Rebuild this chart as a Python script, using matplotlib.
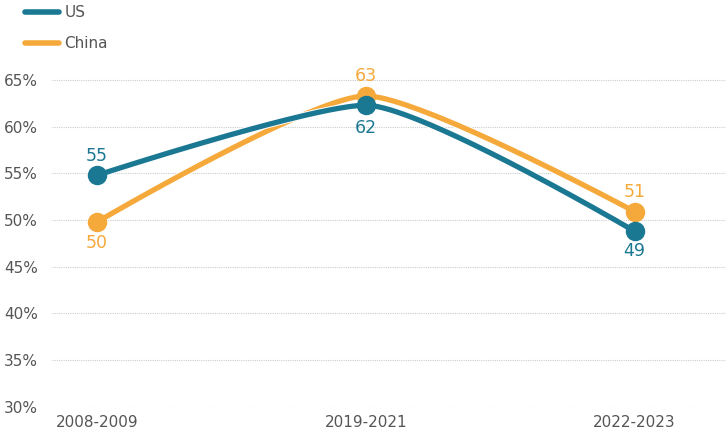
import numpy as np
import matplotlib
matplotlib.use("Agg")
import matplotlib.pyplot as plt
import matplotlib.patheffects as pe
from matplotlib.lines import Line2D

periods = ["2008-2009", "2019-2021", "2022-2023"]
us = [54.8, 62.3, 48.8]
china = [49.8, 63.3, 50.9]
us_labels = ["55", "62", "49"]
china_labels = ["50", "63", "51"]

US_COL = "#1b7893"
CN_COL = "#f6a93b"
TXT = "#555555"

plt.rcParams["font.family"] = ["DejaVu Sans"]


def spline(x, y, smoothing=4.0, n=80):
    # highcharts-like spline: bezier segments, control points clamped at peaks
    x = np.asarray(x, float)
    y = np.asarray(y, float)
    k = len(x)
    lc = [None] * k
    rc = [None] * k
    denom = smoothing + 1
    for i in range(1, k - 1):
        lx = (smoothing * x[i] + x[i - 1]) / denom
        ly = (smoothing * y[i] + y[i - 1]) / denom
        rx = (smoothing * x[i] + x[i + 1]) / denom
        ry = (smoothing * y[i] + y[i + 1]) / denom
        corr = (ry - ly) * (rx - x[i]) / (rx - lx) + y[i] - ry
        ly += corr
        ry += corr
        if ly > y[i - 1] and ly > y[i]:
            ly = max(y[i - 1], y[i]); ry = 2 * y[i] - ly
        elif ly < y[i - 1] and ly < y[i]:
            ly = min(y[i - 1], y[i]); ry = 2 * y[i] - ly
        if ry > y[i + 1] and ry > y[i]:
            ry = max(y[i + 1], y[i]); ly = 2 * y[i] - ry
        elif ry < y[i + 1] and ry < y[i]:
            ry = min(y[i + 1], y[i]); ly = 2 * y[i] - ry
        lc[i] = (lx, ly)
        rc[i] = (rx, ry)
    rc[0] = (x[0], y[0])
    lc[-1] = (x[-1], y[-1])
    t = np.linspace(0, 1, n)[:, None]
    pts = []
    for i in range(k - 1):
        p0 = np.array([x[i], y[i]]); p3 = np.array([x[i + 1], y[i + 1]])
        c1 = np.array(rc[i]); c2 = np.array(lc[i + 1])
        b = (1 - t)**3 * p0 + 3 * (1 - t)**2 * t * c1 + 3 * (1 - t) * t**2 * c2 + t**3 * p3
        pts.append(b)
    pts = np.vstack(pts)
    return pts[:, 0], pts[:, 1]


fig = plt.figure(figsize=(7.26, 4.36), dpi=100)
ax = fig.add_axes([0.0716, 0.0672, 0.9284, 0.792])

x = np.arange(len(periods))
outline = [pe.Stroke(linewidth=5.2, foreground="white"), pe.Normal()]

# offsets in points (negative = below)
for vals, col, labs, offs in [
    (china, CN_COL, china_labels, [-15, 14.4, 14.4]),
    (us, US_COL, us_labels, [13.7, -16.5, -14.4]),
]:
    sx, sy = spline(x, vals)
    ax.plot(sx, sy, color=col, lw=3.8, solid_capstyle="round", zorder=3,
            path_effects=outline)
    ax.plot(x, vals, "o", color=col, ms=13, zorder=4)
    for xi, v, lab, off in zip(x, vals, labs, offs):
        ax.annotate(lab, (xi, v), xytext=(0, off), textcoords="offset points",
                    ha="center", va="center", color=col, fontsize=12.5, zorder=5)

ax.set_xlim(-0.168, 2.34)
ax.set_ylim(30, 67)
ax.set_yticks(range(30, 66, 5))
ax.set_yticklabels([f"{t}%" for t in range(30, 66, 5)])
ax.set_xticks(x)
ax.set_xticklabels(periods)
ax.tick_params(length=0, labelsize=11, colors=TXT)
ax.tick_params(axis="y", pad=10)
ax.tick_params(axis="x", pad=6)
for sp in ax.spines.values():
    sp.set_visible(False)
ax.grid(axis="y", color="#cccccc", linestyle=(0, (1, 1)), linewidth=0.8)
ax.set_axisbelow(True)

handles = [Line2D([], [], color=US_COL, lw=4, solid_capstyle="round"),
           Line2D([], [], color=CN_COL, lw=4, solid_capstyle="round")]
fig.legend(handles, ["US", "China"], loc="upper left", bbox_to_anchor=(0.016, 1.02),
           frameon=False, handlelength=2.2, handletextpad=0.35, labelspacing=1.05,
           fontsize=11, labelcolor=TXT)

fig.savefig("out.png", dpi=100)
